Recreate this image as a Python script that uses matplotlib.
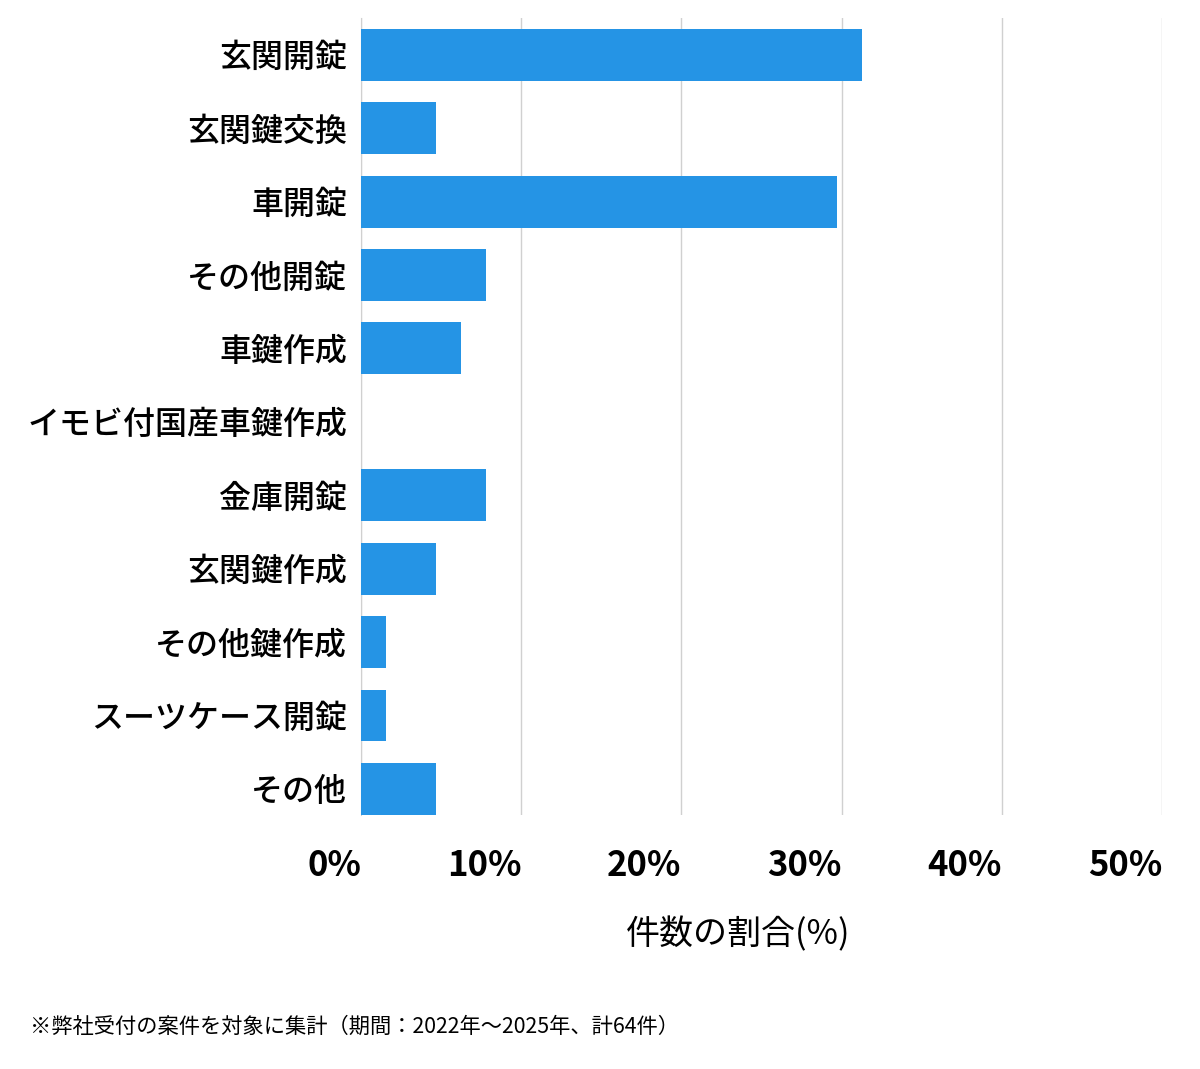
import matplotlib.pyplot as plt
import numpy as np

plt.rcParams['font.family'] = ['Noto Sans CJK JP', 'DejaVu Sans']

# categories (top to bottom) and case counts (total 64)
categories = ["玄関開錠", "玄関鍵交換", "車開錠", "その他開錠", "車鍵作成",
              "イモビ付国産車鍵作成", "金庫開錠", "玄関鍵作成", "その他鍵作成",
              "スーツケース開錠", "その他"]
counts = [20, 3, 19, 5, 4, 0, 5, 3, 1, 1, 3]
total = 64
ticks = [0, 10, 20, 30, 40, 50]
tick_labels = ["0%", "10%", "20%", "30%", "40%", "50%"]

shares = np.array(counts) / total * 100

fig = plt.figure(figsize=(12, 10.69), dpi=100)
ax = fig.add_axes([0.3008, 0.2376, 0.6675, 0.7455])

y = np.arange(len(categories))
ax.barh(y, shares, height=0.707, color="#2594e5", zorder=3)

ax.set_xlim(0, 50)
ax.set_ylim(len(categories) - 1 + 0.355, -0.5)
ax.set_yticks(y)
ax.set_yticklabels(categories, fontsize=23, fontweight="medium")
ax.set_xticks(ticks)
ax.set_xticklabels(tick_labels, fontsize=25, fontweight="bold", ha="right")
ax.tick_params(axis="both", length=0)
ax.tick_params(axis="x", pad=24)
ax.tick_params(axis="y", pad=10)

ax.grid(axis="x", color="#d0d0d0", linewidth=1, zorder=0)
for s in ["top", "right", "bottom"]:
    ax.spines[s].set_visible(False)
ax.spines["left"].set_color("#d0d0d0")

fig.text(738 / 1200, 1 - 935 / 1069, "件数の割合(%)", fontsize=24.5,
         ha="center", va="center")

fig.text(0.025, 1 - 1027 / 1069, "※弊社受付の案件を対象に集計（期間：2022年～2025年、計64件）",
         fontsize=15.3, va="center")

fig.savefig("out.png")
